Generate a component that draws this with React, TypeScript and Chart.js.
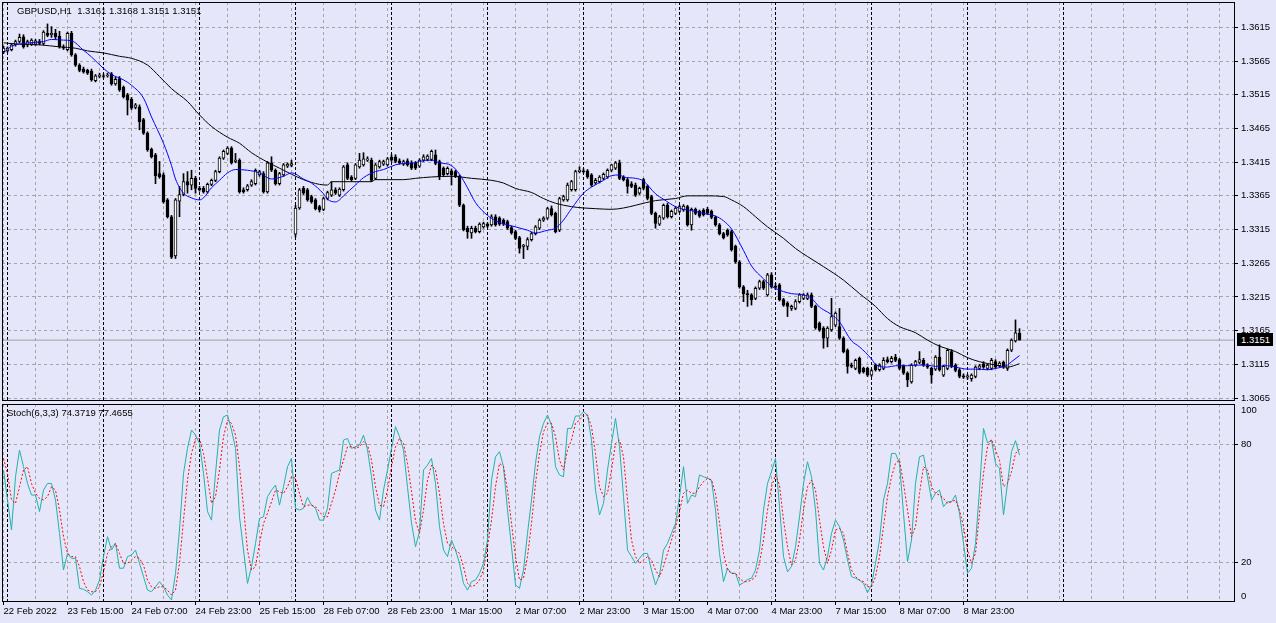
import React, { useEffect, useRef } from "react";
import { Chart, registerables } from "chart.js";

Chart.register(...registerables);

// ---------------- data ----------------
const symbolTitle = "GBPUSD,H1  1.3161 1.3168 1.3151 1.3151";
const stochTitle = "Stoch(6,3,3) 74.3719 77.4655";
const lastPrice = 1.3151;

const opens = [
  1.3579,1.3580,1.3582,1.3589,1.3594,1.3601,1.3589,1.3590,1.3590,1.3594,
  1.3591,1.3606,1.3604,1.3606,1.3602,1.3586,1.3582,1.3606,1.3574,1.3559,
  1.3553,1.3551,1.3550,1.3536,1.3542,1.3543,1.3543,1.3546,1.3531,1.3539,
  1.3526,1.3515,1.3508,1.3496,1.3497,1.3478,1.3458,1.3434,1.3426,1.3398,
  1.3396,1.3359,1.3334,1.3276,1.3357,1.3367,1.3386,1.3381,1.3391,1.3376,
  1.3376,1.3371,1.3382,1.3388,1.3401,1.3421,1.3428,1.3436,1.3416,1.3418,
  1.3374,1.3374,1.3381,1.3383,1.3396,1.3398,1.3371,1.3414,1.3403,1.3383,
  1.3396,1.3409,1.3410,1.3308,1.3347,1.3376,1.3374,1.3364,1.3359,1.3349,
  1.3345,1.3361,1.3366,1.3374,1.3366,1.3374,1.3411,1.3393,1.3391,1.3408,
  1.3411,1.3418,1.3418,1.3391,1.3408,1.3412,1.3411,1.3422,1.3423,1.3417,
  1.3412,1.3417,1.3414,1.3414,1.3409,1.3418,1.3419,1.3419,1.3426,1.3416,
  1.3406,1.3398,1.3402,1.3401,1.3394,1.3351,1.3317,1.3310,1.3317,1.3312,
  1.3319,1.3323,1.3322,1.3334,1.3332,1.3329,1.3327,1.3318,1.3312,1.3303,
  1.3290,1.3290,1.3300,1.3309,1.3317,1.3329,1.3332,1.3346,1.3339,1.3314,
  1.3359,1.3359,1.3374,1.3374,1.3401,1.3402,1.3402,1.3396,1.3384,1.3386,
  1.3391,1.3393,1.3403,1.3406,1.3414,1.3393,1.3389,1.3383,1.3381,1.3369,
  1.3389,1.3379,1.3364,1.3339,1.3323,1.3332,1.3351,1.3334,1.3339,1.3342,
  1.3344,1.3349,1.3322,1.3345,1.3342,1.3344,1.3345,1.3342,1.3333,1.3322,
  1.3309,1.3314,1.3312,1.3290,1.3267,1.3230,1.3220,1.3218,1.3213,1.3228,
  1.3238,1.3218,1.3248,1.3231,1.3233,1.3211,1.3206,1.3198,1.3198,1.3208,
  1.3213,1.3213,1.3218,1.3201,1.3176,1.3169,1.3154,1.3166,1.3173,1.3171,
  1.3154,1.3136,1.3114,1.3109,1.3124,1.3109,1.3109,1.3099,1.3114,1.3107,
  1.3109,1.3122,1.3119,1.3126,1.3122,1.3112,1.3102,1.3089,1.3114,1.3118,
  1.3121,1.3113,1.3109,1.3108,1.3126,1.3099,1.3109,1.3134,1.3114,1.3107,
  1.3098,1.3096,1.3094,1.3097,1.3109,1.3116,1.3109,1.3109,1.3119,1.3113,
  1.3118,1.3109,1.3136,1.3150,1.3161,
];

const highs = [
  1.3587,1.3586,1.3591,1.3596,1.3605,1.3604,1.3596,1.3598,1.3597,1.3597,
  1.3610,1.3620,1.3616,1.3612,1.3609,1.3589,1.3608,1.3609,1.3576,1.3561,
  1.3556,1.3553,1.3553,1.3545,1.3547,1.3546,1.3547,1.3548,1.3541,1.3542,
  1.3528,1.3517,1.3511,1.3502,1.3500,1.3480,1.3460,1.3436,1.3428,1.3416,
  1.3399,1.3361,1.3336,1.3361,1.3379,1.3398,1.3401,1.3403,1.3394,1.3379,
  1.3379,1.3384,1.3390,1.3403,1.3423,1.3433,1.3438,1.3438,1.3428,1.3420,
  1.3377,1.3382,1.3389,1.3405,1.3403,1.3401,1.3416,1.3423,1.3405,1.3400,
  1.3413,1.3414,1.3418,1.3351,1.3376,1.3379,1.3376,1.3366,1.3361,1.3351,
  1.3363,1.3372,1.3386,1.3377,1.3377,1.3410,1.3414,1.3395,1.3413,1.3428,
  1.3429,1.3423,1.3421,1.3413,1.3418,1.3418,1.3422,1.3426,1.3426,1.3420,
  1.3418,1.3420,1.3417,1.3416,1.3420,1.3426,1.3426,1.3433,1.3433,1.3418,
  1.3408,1.3408,1.3405,1.3403,1.3396,1.3353,1.3320,1.3320,1.3320,1.3325,
  1.3326,1.3325,1.3337,1.3337,1.3334,1.3331,1.3329,1.3320,1.3314,1.3305,
  1.3293,1.3303,1.3311,1.3321,1.3331,1.3334,1.3348,1.3350,1.3341,1.3363,
  1.3366,1.3384,1.3388,1.3403,1.3408,1.3405,1.3404,1.3398,1.3391,1.3395,
  1.3399,1.3405,1.3412,1.3416,1.3418,1.3395,1.3391,1.3386,1.3384,1.3378,
  1.3391,1.3381,1.3366,1.3341,1.3336,1.3353,1.3354,1.3344,1.3349,1.3351,
  1.3352,1.3351,1.3347,1.3347,1.3344,1.3346,1.3348,1.3344,1.3335,1.3324,
  1.3311,1.3316,1.3314,1.3292,1.3269,1.3232,1.3225,1.3220,1.3230,1.3240,
  1.3240,1.3250,1.3251,1.3235,1.3235,1.3213,1.3208,1.3203,1.3211,1.3220,
  1.3220,1.3221,1.3221,1.3203,1.3178,1.3171,1.3171,1.3213,1.3193,1.3198,
  1.3156,1.3138,1.3117,1.3123,1.3126,1.3111,1.3111,1.3108,1.3116,1.3116,
  1.3125,1.3126,1.3127,1.3130,1.3124,1.3114,1.3104,1.3116,1.3121,1.3134,
  1.3124,1.3116,1.3111,1.3128,1.3144,1.3114,1.3138,1.3137,1.3116,1.3109,
  1.3101,1.3100,1.3101,1.3113,1.3115,1.3119,1.3116,1.3124,1.3122,1.3119,
  1.3120,1.3138,1.3153,1.3181,1.3168,
];

const lows = [
  1.3576,1.3578,1.3580,1.3587,1.3592,1.3584,1.3586,1.3588,1.3588,1.3589,
  1.3589,1.3601,1.3600,1.3598,1.3584,1.3582,1.3580,1.3572,1.3557,1.3549,
  1.3547,1.3545,1.3535,1.3534,1.3540,1.3540,1.3541,1.3529,1.3529,1.3520,
  1.3510,1.3485,1.3493,1.3494,1.3463,1.3456,1.3431,1.3421,1.3383,1.3391,
  1.3354,1.3332,1.3272,1.3272,1.3334,1.3365,1.3369,1.3374,1.3369,1.3372,
  1.3369,1.3369,1.3380,1.3386,1.3399,1.3419,1.3426,1.3412,1.3414,1.3369,
  1.3369,1.3372,1.3379,1.3381,1.3394,1.3369,1.3369,1.3401,1.3381,1.3381,
  1.3394,1.3407,1.3408,1.3304,1.3345,1.3367,1.3357,1.3354,1.3344,1.3341,
  1.3343,1.3359,1.3364,1.3367,1.3364,1.3372,1.3389,1.3387,1.3389,1.3406,
  1.3409,1.3416,1.3386,1.3389,1.3406,1.3410,1.3409,1.3416,1.3414,1.3412,
  1.3410,1.3409,1.3404,1.3404,1.3407,1.3416,1.3417,1.3417,1.3411,1.3389,
  1.3394,1.3396,1.3381,1.3392,1.3349,1.3313,1.3302,1.3302,1.3310,1.3310,
  1.3317,1.3318,1.3320,1.3320,1.3321,1.3321,1.3315,1.3308,1.3300,1.3280,
  1.3272,1.3285,1.3298,1.3307,1.3315,1.3327,1.3330,1.3335,1.3310,1.3312,
  1.3357,1.3357,1.3372,1.3372,1.3399,1.3399,1.3391,1.3379,1.3382,1.3384,
  1.3389,1.3391,1.3401,1.3404,1.3389,1.3387,1.3369,1.3377,1.3364,1.3367,
  1.3374,1.3359,1.3337,1.3317,1.3321,1.3330,1.3332,1.3332,1.3337,1.3340,
  1.3342,1.3320,1.3314,1.3337,1.3333,1.3335,1.3337,1.3331,1.3320,1.3307,
  1.3301,1.3305,1.3283,1.3265,1.3228,1.3208,1.3201,1.3203,1.3211,1.3226,
  1.3226,1.3216,1.3228,1.3226,1.3209,1.3201,1.3186,1.3195,1.3196,1.3206,
  1.3211,1.3211,1.3199,1.3167,1.3164,1.3139,1.3141,1.3164,1.3171,1.3152,
  1.3132,1.3102,1.3110,1.3107,1.3101,1.3102,1.3097,1.3097,1.3105,1.3105,
  1.3107,1.3117,1.3117,1.3119,1.3107,1.3100,1.3082,1.3087,1.3112,1.3116,
  1.3112,1.3109,1.3087,1.3106,1.3105,1.3097,1.3107,1.3110,1.3104,1.3095,
  1.3094,1.3093,1.3090,1.3095,1.3107,1.3109,1.3107,1.3107,1.3109,1.3111,
  1.3109,1.3106,1.3134,1.3148,1.3151,
];

const closes = [
  1.3584,1.3584,1.3589,1.3594,1.3600,1.3586,1.3594,1.3596,1.3595,1.3591,
  1.3608,1.3603,1.3606,1.3601,1.3586,1.3584,1.3606,1.3574,1.3559,1.3551,
  1.3549,1.3547,1.3537,1.3543,1.3544,1.3542,1.3544,1.3531,1.3538,1.3522,
  1.3512,1.3507,1.3495,1.3500,1.3475,1.3458,1.3433,1.3423,1.3395,1.3393,
  1.3356,1.3334,1.3274,1.3359,1.3367,1.3386,1.3381,1.3391,1.3376,1.3374,
  1.3371,1.3382,1.3388,1.3401,1.3421,1.3431,1.3436,1.3414,1.3418,1.3371,
  1.3371,1.3380,1.3386,1.3403,1.3401,1.3371,1.3414,1.3403,1.3383,1.3398,
  1.3411,1.3412,1.3413,1.3347,1.3374,1.3369,1.3359,1.3356,1.3346,1.3344,
  1.3361,1.3370,1.3374,1.3369,1.3375,1.3408,1.3391,1.3389,1.3411,1.3418,
  1.3420,1.3420,1.3388,1.3411,1.3416,1.3416,1.3420,1.3418,1.3416,1.3414,
  1.3416,1.3411,1.3406,1.3406,1.3418,1.3423,1.3424,1.3431,1.3413,1.3393,
  1.3396,1.3406,1.3396,1.3394,1.3351,1.3315,1.3312,1.3317,1.3312,1.3323,
  1.3324,1.3320,1.3334,1.3322,1.3323,1.3323,1.3317,1.3310,1.3302,1.3287,
  1.3292,1.3300,1.3309,1.3319,1.3329,1.3332,1.3346,1.3337,1.3312,1.3361,
  1.3364,1.3381,1.3386,1.3401,1.3403,1.3401,1.3393,1.3381,1.3388,1.3393,
  1.3397,1.3403,1.3411,1.3414,1.3391,1.3389,1.3379,1.3379,1.3366,1.3376,
  1.3376,1.3361,1.3339,1.3324,1.3334,1.3351,1.3334,1.3342,1.3347,1.3349,
  1.3350,1.3322,1.3345,1.3339,1.3335,1.3337,1.3339,1.3333,1.3322,1.3309,
  1.3303,1.3307,1.3285,1.3267,1.3230,1.3220,1.3218,1.3211,1.3228,1.3238,
  1.3228,1.3248,1.3230,1.3229,1.3211,1.3203,1.3201,1.3201,1.3208,1.3218,
  1.3218,1.3218,1.3201,1.3169,1.3166,1.3154,1.3169,1.3186,1.3191,1.3154,
  1.3134,1.3112,1.3112,1.3121,1.3103,1.3104,1.3099,1.3106,1.3107,1.3114,
  1.3121,1.3119,1.3124,1.3121,1.3109,1.3102,1.3092,1.3114,1.3119,1.3122,
  1.3114,1.3111,1.3099,1.3126,1.3107,1.3112,1.3136,1.3112,1.3106,1.3097,
  1.3096,1.3098,1.3099,1.3111,1.3113,1.3111,1.3114,1.3121,1.3111,1.3117,
  1.3111,1.3136,1.3151,1.3162,1.3151,
];

// fast moving average (blue), read at bar indices
const maFastX = [0,2,5,10,12,15,17,20,22,25,27,30,32,35,37,40,42,43,45,47,49,50,52,54,56,58,61,64,67,70,72,75,77,80,81,83,84,85,88,90,93,95,98,100,103,104,107,109,112,114,116,118,121,123,126,128,131,133,136,138,140,142,145,147,150,152,154,155,158,160,163,165,168,170,173,175,178,180,182,185,187,190,192,195,197,200,202,204,205,207,209,212,214,217,218,221,223,226,228,231,233,236,238,241,243,246,248,251,252,254];
const maFastY = [1.3577,1.3587,1.3591,1.3594,1.3597,1.3596,1.3595,1.3581,1.3571,1.3554,1.3545,1.3537,1.3529,1.3510,1.3482,1.3443,1.3410,1.3390,1.3369,1.3362,1.3359,1.3362,1.3377,1.3388,1.3399,1.3404,1.3403,1.3399,1.3390,1.3394,1.3399,1.3390,1.3384,1.3368,1.3360,1.3356,1.3359,1.3365,1.3381,1.3392,1.3401,1.3404,1.3411,1.3413,1.3414,1.3416,1.3418,1.3414,1.3410,1.3397,1.3377,1.3355,1.3336,1.3328,1.3322,1.3319,1.3314,1.3310,1.3314,1.3317,1.3329,1.3346,1.3369,1.3378,1.3388,1.3395,1.3396,1.3393,1.3391,1.3387,1.3368,1.3360,1.3349,1.3345,1.3342,1.3339,1.3335,1.3328,1.3316,1.3284,1.3261,1.3242,1.3231,1.3223,1.3220,1.3218,1.3213,1.3200,1.3196,1.3189,1.3178,1.3150,1.3141,1.3123,1.3115,1.3111,1.3113,1.3113,1.3114,1.3114,1.3112,1.3113,1.3111,1.3108,1.3108,1.3107,1.3109,1.3114,1.3119,1.3128];

// slow moving average (black), read at bar indices
const maSlowX = [0,4,9,14,18,21,25,29,32,36,39,42,46,49,52,56,59,62,66,69,72,75,79,81,82,92,93,100,103,107,112,117,122,125,128,132,135,138,142,145,148,152,155,158,163,168,171,176,180,182,185,188,191,195,198,201,205,210,214,218,221,224,228,231,234,238,241,244,248,251,254];
const maSlowY = [1.3592,1.3590,1.3589,1.3586,1.3584,1.3580,1.3577,1.3572,1.3569,1.3559,1.3542,1.3524,1.3505,1.3485,1.3468,1.3452,1.3443,1.3429,1.3415,1.3406,1.3397,1.3389,1.3382,1.3381,1.3386,1.3386,1.3389,1.3389,1.3391,1.3393,1.3394,1.3391,1.3388,1.3384,1.3376,1.3370,1.3361,1.3354,1.3349,1.3347,1.3346,1.3345,1.3347,1.3351,1.3358,1.3361,1.3365,1.3365,1.3364,1.3359,1.3349,1.3334,1.3319,1.3302,1.3287,1.3275,1.3260,1.3240,1.3220,1.3201,1.3183,1.3171,1.3162,1.3151,1.3142,1.3134,1.3125,1.3119,1.3114,1.3111,1.3116];

// Stochastic main (%K) and signal (%D), one value per bar
const stochMain = [
  66.8,51.6,36.4,63.4,76.9,68.5,60,54.1,54.1,45.7,
  56.6,60,60,51.6,34.7,16.1,24.5,22,22,6.8,
  6.3,5.1,3.4,5.9,11,22.9,33,26.2,29.6,17,
  17,22.9,23.7,26.2,19.5,12.7,5.9,5.1,7.6,10.2,
  7.6,3.4,0.9,14.4,36.4,65.1,77.8,87.1,84.5,80.3,
  65.1,45.7,41.4,65.1,87.1,93.8,94.7,87.1,77.8,43.1,
  26.2,9.3,17.8,29.6,42.3,43.1,53.3,56.6,59.2,49,
  58.3,68.5,72.7,47.4,46.5,47.4,53,49,47.4,41.4,
  41.4,47.4,65.1,66,66.8,82,82.8,77.8,78.6,79.5,
  84.5,77,63.4,46.5,41.4,56.6,66.8,77.8,88.8,83.7,
  77,58,40,27.9,35.5,66.8,69.3,72.7,60,38.1,
  26.2,22.9,31.3,26.2,19.5,9.3,5.9,10.2,11,14.4,
  19.5,31.3,61.7,73.5,76.1,68.5,46.5,27.9,8.5,6.8,
  16.1,34.7,51.6,70.2,83.7,90.5,94.7,89.6,68.5,64.3,
  63.4,87.9,87.9,94.2,94.2,96.4,94.7,82,56.6,44,
  49.9,66.8,80.3,93,78.6,53.3,26.2,22.9,19.5,22,
  24.5,24.5,16.1,8.5,13.6,26.2,29.6,34.7,39.7,53.3,
  68.5,49.9,54.1,53.3,64.3,63.4,62.6,61.7,46.5,24.5,
  10.2,17,14.4,14.4,8.5,9.7,11.3,11.9,16.1,26.2,
  46.5,60,66,72.7,48.2,22.9,15.2,17.8,27.9,43.1,
  60,71,63.4,46.5,19.5,16.1,22.9,34.7,41.4,38.1,
  31.3,21.2,12.7,11.9,11,9.3,4.6,8.5,19.5,31.3,
  51.6,60,75.2,75.2,70.2,44.8,20.3,31.3,60,73.5,
  74.4,63.4,51.6,55,56.7,48.2,50.7,50.7,54.1,44.8,
  29.6,14.4,17,29.6,56.7,87.9,80.6,82,70.2,67.6,
  44,60,76.1,81.7,74.37,
];

const stochSignal = [
  72.7,65.1,51.6,49.9,58.3,66.8,68.5,60,55,52.4,
  51.6,53.3,58.3,56.6,46.5,33,24.5,22.9,22.9,17.8,
  10.2,5.9,5.1,5.1,7.6,15.2,24.5,27.9,29.6,24.5,
  19.5,19.5,21.2,22.9,22,18.6,11,7.6,6.8,7.6,
  7.6,5.9,3.4,5.9,19.5,41.4,61.7,75.2,82.8,82.8,
  75.2,62.6,49.9,53.3,66.8,83.7,92.1,90.5,84.5,68.5,
  48.2,26.2,16.1,17.8,29.6,39.7,44.8,50.7,56.6,55.8,
  54.9,58.3,63.4,62.6,54.9,48.2,49,49,48.2,45.7,
  43.1,43.1,49.9,56.6,65.1,71.8,78.6,78.6,77.8,78.6,
  81.2,79.5,71.8,58.3,49,48.2,56.6,68.5,78.6,82.8,
  80.3,70,56,41,34.7,46.5,61.7,69.3,66.8,55,
  39.7,29.6,27.9,26.2,24.5,17.8,9.3,7.6,8.5,11,
  16.1,27.9,41.4,58.3,70.2,68.5,56.6,39.7,22.9,11,
  11.9,22.9,39.7,60,75.2,86.2,90.5,90.5,83.7,71.8,
  66.8,76.9,82,90.5,92.1,94.7,94.7,88.8,75.2,58.3,
  53.3,55,66.8,80.3,82,73.5,51.6,31.3,22.9,19.5,
  21.2,22.9,21.2,16.1,12.7,17.8,24.5,31.3,38.1,45.7,
  55,56.6,55,55,58.3,60.9,62.6,61.7,55,40,
  24.5,16.1,14.4,14.4,11.9,10.2,10.2,11,12.7,19.5,
  31.3,46.5,58.3,64.3,59.2,41.4,27.9,18.6,21.2,31.3,
  46.5,58.3,61.7,56.6,41.4,27.9,19.5,26.2,36.4,37.2,
  34.7,24.5,16.1,12.7,11,10.2,7.6,7.6,12.7,22.9,
  38.1,53.3,63.4,70.2,71.8,60,46.5,33,38.1,55,
  68.5,66.8,58.3,55,54.1,52.4,49.9,50.7,51.6,46.5,
  38.1,26.2,19.5,24.5,44.8,65.1,78.6,82.3,76.9,71.8,
  58.3,60,66,75.2,77.47,
];

const priceTicks = [1.3065,1.3115,1.3165,1.3215,1.3265,1.3315,1.3365,1.3415,1.3465,1.3515,1.3565,1.3615];
const stochLevels = [20, 80];
const stochBounds = [0, 100];

const timeLabelIdx = [0,16,32,48,64,80,96,112,128,144,160,176,192,208,224,240];
const timeLabels = [
  "22 Feb 2022","23 Feb 15:00","24 Feb 07:00","24 Feb 23:00","25 Feb 15:00",
  "28 Feb 07:00","28 Feb 23:00","1 Mar 15:00","2 Mar 07:00","2 Mar 23:00",
  "3 Mar 15:00","4 Mar 07:00","4 Mar 23:00","7 Mar 15:00","8 Mar 07:00","8 Mar 23:00",
];
const daySeparatorIdx = [1,25,49,73,97,121,145,169,193,217,241,265];

// ---------------- layout / style ----------------
const W = 1276;
const TOP_H = 402;
const BOT_H = 221;
const PLOT_LEFT = 2;
const AXIS_W = 41;
const BAR_PX = 4;
const X_MIN = -0.375;
const X_MAX = X_MIN + (W - AXIS_W - PLOT_LEFT) / BAR_PX;
const P_MIN = 1.30607;
const P_MAX = 1.365253;
const S_MIN = -0.13;
const S_MAX = 100.29;
const LABEL_INSET = 2.9;
const X_AXIS_H = 21;

const BG = "#E6E6FA";
const GRID = "#A4A4A4";
const FONT = "'Liberation Sans', Arial, sans-serif";
const FONT_SIZE = 9.5;

const gridIdx = Array.from({ length: 39 }, (_, k) => k * 8);
const xTickValues = [...gridIdx, ...daySeparatorIdx].sort((a, b) => a - b);
const daySet = new Set(daySeparatorIdx);
const labelMap = new Map(timeLabelIdx.map((v, k) => [v, timeLabels[k]]));

const framePlugin = {
  id: "frame",
  afterDraw(chart: any) {
    const { ctx, chartArea: a } = chart;
    ctx.save();
    ctx.setLineDash([]);
    ctx.strokeStyle = "#000";
    ctx.lineWidth = 1;
    ctx.strokeRect(a.left + 0.5, a.top + 0.5, a.right - a.left - 1, a.bottom - a.top - 1);
    ctx.restore();
  },
};

const zeroPadding = (s: any) => {
  s.paddingTop = 0;
  s.paddingBottom = 0;
  s.paddingLeft = 0;
  s.paddingRight = 0;
};

function xScale(showLabels: boolean) {
  return {
    type: "linear",
    min: X_MIN,
    max: X_MAX,
    bounds: "data",
    offset: false,
    afterBuildTicks: (s: any) => {
      s.ticks = xTickValues.map((value) => ({ value }));
    },
    grid: {
      offset: false,
      lineWidth: 1,
      color: (c: any) => (c.tick && daySet.has(c.tick.value) ? "#000000" : GRID),
      drawTicks: showLabels,
      tickLength: 3,
      tickWidth: 1,
      tickColor: (c: any) => (c.tick && labelMap.has(c.tick.value) ? "#000000" : "rgba(0,0,0,0)"),
      tickBorderDash: [],
    },
    border: {
      display: false,
      dash: (c: any) => (c.tick && daySet.has(c.tick.value) ? [3, 2] : [3, 3]),
    },
    ticks: {
      display: showLabels,
      autoSkip: false,
      maxRotation: 0,
      minRotation: 0,
      align: "start",
      padding: 1,
      color: "#000",
      font: { family: FONT, size: FONT_SIZE },
      callback: (v: any) => labelMap.get(v) ?? "",
    },
    afterFit: (s: any) => {
      s.height = showLabels ? X_AXIS_H : 0;
      zeroPadding(s);
    },
  };
}

function topConfig(): any {
  const wicks = lows.map((l, i) => ({ x: i, y: [l, highs[i]] }));
  const bodies = opens.map((o, i) => ({ x: i, y: [o, closes[i]] }));
  const bodyColors = opens.map((o, i) => (closes[i] >= o ? "#FFFFFF" : "#000000"));
  return {
    type: "bar",
    data: {
      datasets: [
        {
          type: "line",
          data: maFastX.map((x, k) => ({ x, y: maFastY[k] })),
          borderColor: "#0000FF",
          borderWidth: 1,
          pointRadius: 0,
          cubicInterpolationMode: "monotone",
          order: 1,
        },
        {
          type: "line",
          data: maSlowX.map((x, k) => ({ x, y: maSlowY[k] })),
          borderColor: "#000000",
          borderWidth: 1,
          pointRadius: 0,
          cubicInterpolationMode: "monotone",
          order: 2,
        },
        {
          type: "bar",
          data: bodies,
          backgroundColor: bodyColors,
          borderColor: "#000000",
          borderWidth: 1,
          borderSkipped: false,
          barThickness: 3,
          grouped: false,
          order: 3,
        },
        {
          type: "bar",
          data: wicks,
          backgroundColor: "#000000",
          borderWidth: 0,
          barThickness: 1,
          grouped: false,
          order: 4,
        },
        {
          type: "line",
          data: [
            { x: X_MIN, y: lastPrice },
            { x: X_MAX, y: lastPrice },
          ],
          borderColor: "#A0A0A0",
          borderWidth: 1,
          pointRadius: 0,
          order: 5,
        },
      ],
    },
    options: {
      responsive: false,
      maintainAspectRatio: false,
      animation: false,
      events: [],
      layout: { padding: { left: PLOT_LEFT, top: 2, right: 0, bottom: 1 } },
      plugins: { legend: { display: false }, tooltip: { enabled: false } },
      scales: {
        x: xScale(false),
        y: {
          type: "linear",
          position: "right",
          min: P_MIN,
          max: P_MAX,
          bounds: "data",
          beginAtZero: false,
          afterBuildTicks: (s: any) => {
            s.ticks = priceTicks.map((value) => ({ value }));
          },
          grid: {
            color: GRID,
            lineWidth: 1,
            drawTicks: true,
            tickLength: 3,
            tickColor: "#000000",
            tickBorderDash: [],
          },
          border: { display: false, dash: [3, 3] },
          ticks: {
            color: "#000",
            padding: 3,
            font: { family: FONT, size: FONT_SIZE },
            callback: (v: any) => Number(v).toFixed(4),
          },
          afterFit: (s: any) => {
            s.width = AXIS_W;
            zeroPadding(s);
          },
        },
      },
    },
    plugins: [framePlugin],
  };
}

function bottomConfig(): any {
  const lowInset = stochBounds[0] + LABEL_INSET;
  const highInset = stochBounds[1] - LABEL_INSET;
  return {
    type: "line",
    data: {
      datasets: [
        {
          data: stochSignal.map((v, i) => ({ x: i, y: v })),
          borderColor: "#FF0000",
          borderWidth: 1,
          borderDash: [2, 2],
          pointRadius: 0,
          tension: 0,
        },
        {
          data: stochMain.map((v, i) => ({ x: i, y: v })),
          borderColor: "#20B2AA",
          borderWidth: 1,
          pointRadius: 0,
          tension: 0,
        },
      ],
    },
    options: {
      responsive: false,
      maintainAspectRatio: false,
      animation: false,
      events: [],
      layout: { padding: { left: PLOT_LEFT, top: 2, right: 0, bottom: 0 } },
      plugins: { legend: { display: false }, tooltip: { enabled: false } },
      scales: {
        x: xScale(true),
        y: {
          type: "linear",
          position: "right",
          min: S_MIN,
          max: S_MAX,
          bounds: "data",
          afterBuildTicks: (s: any) => {
            s.ticks = [lowInset, ...stochLevels, highInset].map((value) => ({ value }));
          },
          grid: {
            color: (c: any) => (c.tick && stochLevels.includes(c.tick.value) ? GRID : "rgba(0,0,0,0)"),
            lineWidth: 1,
            drawTicks: true,
            tickLength: 3,
            tickColor: (c: any) => (c.tick && stochLevels.includes(c.tick.value) ? "#000000" : "rgba(0,0,0,0)"),
            tickBorderDash: [],
          },
          border: { display: false, dash: [3, 3] },
          ticks: {
            color: "#000",
            padding: 3,
            font: { family: FONT, size: FONT_SIZE },
            callback: (v: any) =>
              v === lowInset ? String(stochBounds[0]) : v === highInset ? String(stochBounds[1]) : String(v),
          },
          afterFit: (s: any) => {
            s.width = AXIS_W;
            zeroPadding(s);
          },
        },
      },
    },
    plugins: [framePlugin],
  };
}

export default function App() {
  const topRef = useRef<HTMLCanvasElement>(null);
  const botRef = useRef<HTMLCanvasElement>(null);

  useEffect(() => {
    document.body.style.margin = "0";
    document.body.style.background = BG;
    const c1 = new Chart(topRef.current as HTMLCanvasElement, topConfig());
    const c2 = new Chart(botRef.current as HTMLCanvasElement, bottomConfig());
    return () => {
      c1.destroy();
      c2.destroy();
    };
  }, []);

  const textStyle: React.CSSProperties = {
    position: "absolute",
    fontFamily: FONT,
    fontSize: FONT_SIZE,
    lineHeight: "13px",
    whiteSpace: "pre",
    color: "#000",
  };

  return (
    <div style={{ position: "relative", width: W, height: TOP_H + BOT_H, background: BG, overflow: "hidden" }}>
      <canvas ref={topRef} width={W} height={TOP_H} style={{ position: "absolute", left: 0, top: 0 }} />
      <canvas ref={botRef} width={W} height={BOT_H} style={{ position: "absolute", left: 0, top: TOP_H }} />
      <div style={{ ...textStyle, left: 17, top: 4 }}>{symbolTitle}</div>
      <div style={{ ...textStyle, left: 7, top: 406 }}>{stochTitle}</div>
      <div
        style={{
          ...textStyle,
          left: 1237,
          top: 333,
          width: 36,
          height: 13,
          background: "#000",
          color: "#fff",
          paddingLeft: 4,
          boxSizing: "border-box",
        }}
      >
        {lastPrice.toFixed(4)}
      </div>
    </div>
  );
}
